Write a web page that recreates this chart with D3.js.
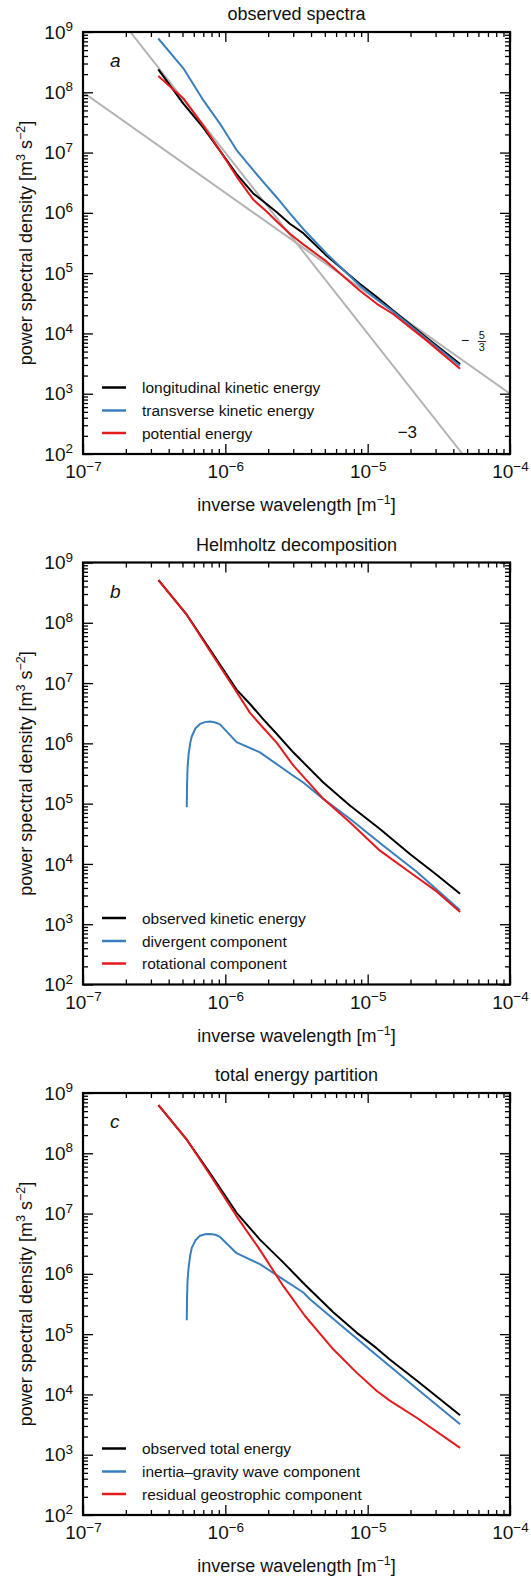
<!DOCTYPE html>
<html>
<head>
<meta charset="utf-8">
<script src="https://cdn.jsdelivr.net/npm/d3@7/dist/d3.min.js"></script>
<style>
  body { margin: 0; background: #fff; }
  text { font-family: "Liberation Sans", Arial, Helvetica, sans-serif; fill: #111; }
</style>
</head>
<body>
<svg id="chart" width="531" height="1581"></svg>
<script>
// panel a: observed spectra
const kA = [3.38e-7, 5.07e-7, 7.0e-7, 9.18e-7, 1.2e-6, 1.57e-6, 1.95e-6, 2.3e-6, 2.84e-6, 3.53e-6, 5.15e-6, 8.83e-6, 1.16e-5, 1.51e-5, 2.6e-5, 4.46e-5];
const longitudinalKE = [2.4e8, 6.5e7, 2.6e7, 1.07e7, 4.4e6, 2.1e6, 1.4e6, 1.02e6, 6.6e5, 4.6e5, 1.95e5, 6.6e4, 4.0e4, 2.4e4, 8.5e3, 3.1e3];
const transverseKE = [7.8e8, 2.5e8, 7.4e7, 3.0e7, 1.1e7, 5.1e6, 2.8e6, 1.8e6, 9.8e5, 5.4e5, 2.1e5, 6.2e4, 3.7e4, 2.3e4, 8.1e3, 2.9e3];
const potentialE = [1.86e8, 7.9e7, 2.8e7, 1.07e7, 4.0e6, 1.66e6, 1.05e6, 7.2e5, 4.5e5, 3.0e5, 1.55e5, 5.1e4, 3.1e4, 2.1e4, 7.6e3, 2.6e3];

// reference slopes drawn in panel a (end points)
const fiveThirdsK = [1e-7, 1e-4];
const fiveThirdsP = [1e8, 1e3];
const minusThreeK = [2.15e-7, 4.64e-5];
const minusThreeP = [1e9, 1e2];

// panel b: Helmholtz decomposition
const kB = [3.39e-7, 5.36e-7, 7.8e-7, 1.2e-6, 1.49e-6, 1.85e-6, 2.3e-6, 3.0e-6, 4.88e-6, 7.5e-6, 1.22e-5, 1.99e-5, 3.05e-5, 4.46e-5];
const observedKE = [5.1e8, 1.36e8, 3.6e7, 7.8e6, 4.5e6, 2.5e6, 1.43e6, 7.1e5, 2.24e5, 9.3e4, 3.8e4, 1.45e4, 6.6e3, 3.2e3];
const rotationalKE = [5.1e8, 1.35e8, 3.4e7, 7.1e6, 3.2e6, 1.8e6, 1.02e6, 4.3e5, 1.2e5, 4.9e4, 1.66e4, 7.2e3, 3.5e3, 1.6e3];
const kDiv = [5.36e-7, 5.38e-7, 5.43e-7, 5.52e-7, 5.66e-7, 5.81e-7, 6.17e-7, 6.64e-7, 7.19e-7, 7.8e-7, 8.51e-7, 9.18e-7, 1.2e-6, 1.75e-6, 3.0e-6, 3.53e-6, 4.88e-6, 7.5e-6, 1.29e-5, 2.21e-5, 4.46e-5];
const divergentKE = [8.7e4, 2.0e5, 4.0e5, 6.6e5, 1.0e6, 1.3e6, 1.78e6, 2.1e6, 2.25e6, 2.3e6, 2.22e6, 2.07e6, 1.05e6, 7.1e5, 2.9e5, 2.24e5, 1.2e5, 5.6e4, 2.0e4, 7.4e3, 1.7e3];

// panel c: total energy partition
const kC = [3.39e-7, 5.36e-7, 7.8e-7, 1.2e-6, 1.75e-6, 2.55e-6, 3.63e-6, 5.73e-6, 8.36e-6, 1.16e-5, 1.43e-5, 2.21e-5, 4.46e-5];
const observedTE = [6.3e8, 1.68e8, 4.7e7, 1.03e7, 3.7e6, 1.55e6, 6.6e5, 2.3e5, 1.06e5, 5.8e4, 3.8e4, 1.7e4, 4.5e3];
const geostrophicE = [6.3e8, 1.68e8, 4.4e7, 9.0e6, 2.5e6, 6.3e5, 2.0e5, 5.6e4, 2.3e4, 1.14e4, 7.9e3, 4.1e3, 1.3e3];
const kIGW = [5.36e-7, 5.38e-7, 5.43e-7, 5.52e-7, 5.66e-7, 5.81e-7, 6.17e-7, 6.64e-7, 7.19e-7, 7.8e-7, 8.51e-7, 9.18e-7, 1.2e-6, 1.75e-6, 2.55e-6, 3.53e-6, 3.93e-6, 1.08e-5, 2.46e-5, 4.46e-5];
const igwE = [1.7e5, 4.0e5, 7.9e5, 1.26e6, 2.0e6, 2.7e6, 3.6e6, 4.3e6, 4.55e6, 4.6e6, 4.45e6, 4.1e6, 2.2e6, 1.45e6, 8.1e5, 4.9e5, 3.8e5, 5.1e4, 1.02e4, 3.2e3];

// axes
const xExponents = [-7, -6, -5, -4];
const yExponents = [2, 3, 4, 5, 6, 7, 8, 9];

const BLACK = "#000000", BLUE = "#3a7fbd", RED = "#e41a1c", GRAY = "#b3b3b3";

const panels = [
  { title: "observed spectra", letter: "a", series: [
      { k: kA, p: longitudinalKE, color: BLACK, label: "longitudinal kinetic energy" },
      { k: kA, p: transverseKE, color: BLUE, label: "transverse kinetic energy" },
      { k: kA, p: potentialE, color: RED, label: "potential energy" }] },
  { title: "Helmholtz decomposition", letter: "b", series: [
      { k: kB, p: observedKE, color: BLACK, label: "observed kinetic energy" },
      { k: kDiv, p: divergentKE, color: BLUE, label: "divergent component" },
      { k: kB, p: rotationalKE, color: RED, label: "rotational component" }] },
  { title: "total energy partition", letter: "c", series: [
      { k: kC, p: observedTE, color: BLACK, label: "observed total energy" },
      { k: kIGW, p: igwE, color: BLUE, label: "inertia\u2013gravity wave component" },
      { k: kC, p: geostrophicE, color: RED, label: "residual geostrophic component" }] }
];

const svg = d3.select("#chart");
const left = 83, right = 510, plotH = 422;
const tops = [32, 562.5, 1093];

const x = d3.scaleLog().domain([1e-7, 1e-4]).range([0, right - left]);
const y = d3.scaleLog().domain([1e2, 1e9]).range([plotH, 0]);

const xMajor = xExponents.map(e => Math.pow(10, e));
const yMajor = yExponents.map(e => Math.pow(10, e));
const xMinor = [], yMinor = [];
xExponents.slice(0, -1).forEach(e => { for (let m = 2; m <= 9; m++) xMinor.push(m * Math.pow(10, e)); });
yExponents.slice(0, -1).forEach(e => { for (let m = 2; m <= 9; m++) yMinor.push(m * Math.pow(10, e)); });

const line = d3.line().x(d => x(d[0])).y(d => y(d[1]));

function powerLabel(sel, exps) {
  sel.selectAll(".tick text").each(function(d, i) {
    const t = d3.select(this).text(null)
      .attr("font-family", "'Liberation Sans', Arial, sans-serif")
      .attr("font-size", 19).attr("fill", "#111");
    t.append("tspan").text("10");
    t.append("tspan").attr("dy", -7.5).attr("font-size", 13.5)
      .text(String(exps[i]).replace("-", "\u2212"));
  });
}

function styleTicks(g) {
  g.select(".domain").remove();
  g.selectAll(".tick line").attr("stroke", "#000").attr("stroke-width", 1.3);
}

panels.forEach((panel, pi) => {
  const g = svg.append("g").attr("transform", `translate(${left},${tops[pi]})`);
  const w = right - left;

  const clipId = "clip" + pi;
  g.append("clipPath").attr("id", clipId)
    .append("rect").attr("width", w).attr("height", plotH);

  // reference slopes (panel a only)
  if (pi === 0) {
    const refs = g.append("g").attr("clip-path", `url(#${clipId})`);
    [[fiveThirdsK, fiveThirdsP], [minusThreeK, minusThreeP]].forEach(([ks, ps]) => {
      refs.append("path")
        .attr("d", line(ks.map((k, i) => [k, ps[i]])))
        .attr("fill", "none").attr("stroke", GRAY).attr("stroke-width", 2);
    });

    // -5/3 annotation
    const ax = x(4.83e-5), ay = y(7.7e3);
    g.append("text").attr("x", ax).attr("y", ay + 4.5).attr("text-anchor", "middle")
      .attr("font-size", 14).text("\u2212");
    const fx = x(6.35e-5);
    g.append("text").attr("x", fx).attr("y", ay - 1.5).attr("text-anchor", "middle")
      .attr("font-size", 11).text("5");
    g.append("line").attr("x1", fx - 4.2).attr("x2", fx + 4.2)
      .attr("y1", ay + 1.2).attr("y2", ay + 1.2)
      .attr("stroke", "#111").attr("stroke-width", 0.9);
    g.append("text").attr("x", fx).attr("y", ay + 11).attr("text-anchor", "middle")
      .attr("font-size", 11).text("3");

    // -3 annotation
    g.append("text").attr("x", x(1.9e-5)).attr("y", y(1.85e2))
      .attr("text-anchor", "middle").attr("font-size", 17).text("\u22123");
  }

  // spectra
  const curves = g.append("g").attr("clip-path", `url(#${clipId})`);
  panel.series.forEach(s => {
    curves.append("path")
      .datum(s.k.map((k, i) => [k, s.p[i]]))
      .attr("d", line)
      .attr("fill", "none")
      .attr("stroke", s.color)
      .attr("stroke-width", 2)
      .attr("stroke-linejoin", "round");
  });

  // ticks on all four sides, pointing inward
  g.append("g").attr("transform", `translate(0,${plotH})`)
    .call(d3.axisBottom(x).tickValues(xMinor).tickSize(-5).tickSizeOuter(0).tickFormat(""))
    .call(styleTicks);
  g.append("g").attr("transform", `translate(0,${plotH})`)
    .call(d3.axisBottom(x).tickValues(xMajor).tickSize(-10).tickSizeOuter(0).tickPadding(11))
    .call(styleTicks).call(s => powerLabel(s, xExponents));
  g.append("g")
    .call(d3.axisTop(x).tickValues(xMinor).tickSize(-5).tickSizeOuter(0).tickFormat(""))
    .call(styleTicks);
  g.append("g")
    .call(d3.axisTop(x).tickValues(xMajor).tickSize(-10).tickSizeOuter(0).tickFormat(""))
    .call(styleTicks);

  g.append("g")
    .call(d3.axisLeft(y).tickValues(yMinor).tickSize(-5).tickSizeOuter(0).tickFormat(""))
    .call(styleTicks);
  g.append("g")
    .call(d3.axisLeft(y).tickValues(yMajor).tickSize(-10).tickSizeOuter(0).tickPadding(10))
    .call(styleTicks).call(s => powerLabel(s, yExponents));
  g.append("g").attr("transform", `translate(${w},0)`)
    .call(d3.axisRight(y).tickValues(yMinor).tickSize(-5).tickSizeOuter(0).tickFormat(""))
    .call(styleTicks);
  g.append("g").attr("transform", `translate(${w},0)`)
    .call(d3.axisRight(y).tickValues(yMajor).tickSize(-10).tickSizeOuter(0).tickFormat(""))
    .call(styleTicks);

  // frame
  g.append("rect").attr("width", w).attr("height", plotH)
    .attr("fill", "none").attr("stroke", "#000").attr("stroke-width", 2.2);

  // title and panel letter
  g.append("text").attr("x", w / 2).attr("y", -12).attr("text-anchor", "middle")
    .attr("font-size", 18).text(panel.title);
  g.append("text").attr("x", 27).attr("y", 35).attr("font-size", 19)
    .attr("font-style", "italic").text(panel.letter);

  // legend
  const rows = [plotH - 66.5, plotH - 43.5, plotH - 21];
  panel.series.forEach((s, i) => {
    g.append("line").attr("x1", 19).attr("x2", 43).attr("y1", rows[i]).attr("y2", rows[i])
      .attr("stroke", s.color).attr("stroke-width", 2.5);
    g.append("text").attr("x", 59).attr("y", rows[i] + 5.5).attr("font-size", 15.5).text(s.label);
  });

  // axis labels
  const xl = g.append("text").attr("x", w / 2).attr("y", plotH + 57)
    .attr("text-anchor", "middle").attr("font-size", 18);
  xl.append("tspan").text("inverse wavelength [m");
  xl.append("tspan").attr("dy", -7).attr("font-size", 12.5).text("\u22121");
  xl.append("tspan").attr("dy", 7).text("]");

  const yl = g.append("text")
    .attr("transform", `translate(${32 - left},${plotH / 2}) rotate(-90)`)
    .attr("text-anchor", "middle").attr("font-size", 18);
  yl.append("tspan").text("power spectral density [m");
  yl.append("tspan").attr("dy", -7).attr("font-size", 12.5).text("3");
  yl.append("tspan").attr("dy", 7).text(" s");
  yl.append("tspan").attr("dy", -7).attr("font-size", 12.5).text("\u22122");
  yl.append("tspan").attr("dy", 7).text("]");
});
</script>
</body>
</html>
